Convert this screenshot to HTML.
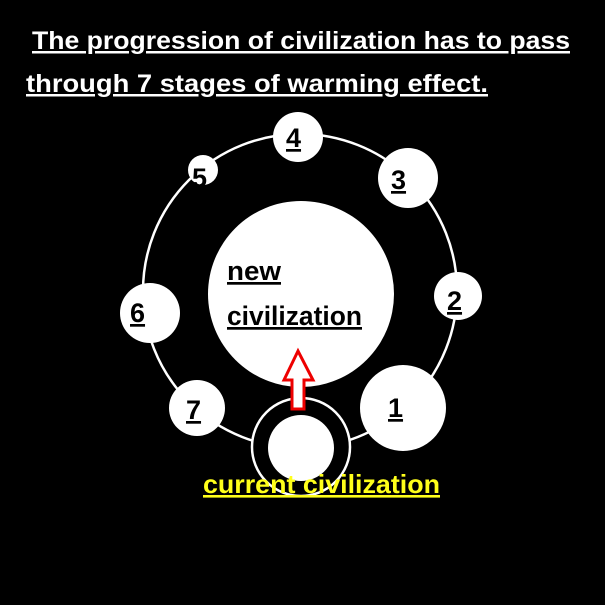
<!DOCTYPE html>
<html><head><style>
body{margin:0;background:#000;width:605px;height:605px;overflow:hidden}
svg{display:block}
text{font-family:"Liberation Sans",sans-serif;text-decoration:underline}
</style></head><body>
<svg width="605" height="605" viewBox="0 0 605 605">
<rect width="605" height="605" fill="#000"/>
<text x="32" y="49" fill="#fff" font-size="25" font-weight="bold" textLength="538" lengthAdjust="spacingAndGlyphs">The progression of civilization has to pass</text>
<text x="26" y="92" fill="#fff" font-size="25" font-weight="bold" textLength="462" lengthAdjust="spacingAndGlyphs">through 7 stages of warming effect.</text>
<circle cx="300" cy="291" r="157" fill="none" stroke="#fff" stroke-width="2.5"/>
<circle cx="301" cy="294" r="93" fill="#fff"/>
<circle cx="298" cy="137" r="25" fill="#fff"/>
<circle cx="203" cy="170" r="15" fill="#fff"/>
<circle cx="408" cy="178" r="30" fill="#fff"/>
<circle cx="458" cy="296" r="24" fill="#fff"/>
<circle cx="403" cy="408" r="43" fill="#fff"/>
<circle cx="150" cy="313" r="30" fill="#fff"/>
<circle cx="197" cy="408" r="28" fill="#fff"/>
<circle cx="301" cy="447" r="49" fill="#000" stroke="#fff" stroke-width="2.5"/>
<circle cx="301" cy="448" r="33" fill="#fff"/>
<polygon points="298,351 284,380 292,380 292,409 304,409 304,380 313,380" fill="#fff" stroke="#e00" stroke-width="3"/>
<g fill="#000" font-size="27" font-weight="bold">
<text x="286" y="147">4</text>
<text x="192" y="187">5</text>
<text x="391" y="189">3</text>
<text x="447" y="310">2</text>
<text x="388" y="417">1</text>
<text x="130" y="322">6</text>
<text x="186" y="419">7</text>
<text x="227" y="280" textLength="54" lengthAdjust="spacingAndGlyphs">new</text>
<text x="227" y="325" textLength="135" lengthAdjust="spacingAndGlyphs">civilization</text>
</g>
<text x="203" y="493" fill="#ffff1a" font-size="26" font-weight="bold" textLength="237" lengthAdjust="spacingAndGlyphs">current civilization</text>
</svg>
</body></html>
